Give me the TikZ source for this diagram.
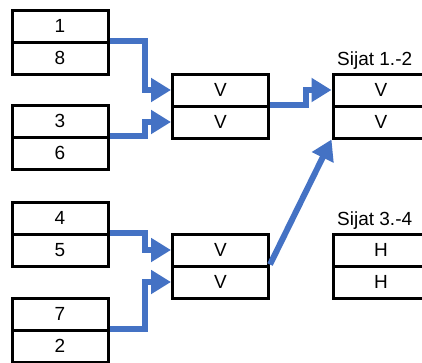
\documentclass[tikz,border=0pt]{standalone}
\usepackage{fontspec}
\setmainfont{Liberation Sans}
\usetikzlibrary{arrows.meta}
\definecolor{flowcol}{RGB}{68,114,196}
\newcommand{\cellw}{96pt}
\tikzset{
  cell/.style={draw=black, line width=3pt, minimum width=\cellw, minimum height=32pt,
    inner sep=0pt, font=\fontsize{19}{22}\selectfont},
  flow/.style={draw=flowcol, line width=6pt, -{Triangle[length=20pt,width=23pt]}},
  sija/.style={anchor=base west, inner sep=0pt, font=\fontsize{19}{22}\selectfont}
}
\begin{document}
\begin{tikzpicture}[x=1pt, y=-1pt]

        \useasboundingbox (0, 0) rectangle (422, 362);

        % lähtöparit
        \node[cell] (p1a) at (60, 26) {1};
        \node[cell] (p1b) at (60, 58) {8};
        \node[cell] (p2a) at (60, 121) {3};
        \node[cell] (p2b) at (60, 153) {6};
        \node[cell] (p3a) at (60, 218) {4};
        \node[cell] (p3b) at (60, 250) {5};
        \node[cell] (p4a) at (60, 314) {7};
        \node[cell] (p4b) at (60, 346) {2};

        % välierät
        \node[cell] (v1a) at (220.5, 90) {V};
        \node[cell] (v1b) at (220.5, 122) {V};
        \node[cell] (v2a) at (220.5, 250) {V};
        \node[cell] (v2b) at (220.5, 282) {V};

        % sijat
        \node[cell] (s1a) at (381, 90) {V};
        \node[cell] (s1b) at (381, 122) {V};
        \node[cell] (s2a) at (381, 250) {H};
        \node[cell] (s2b) at (381, 282) {H};
        \node[sija] (l12) at (337, 65) {Sijat 1.-2};
        \node[sija] (l34) at (337, 225) {Sijat 3.-4};

        % nuolet
        \draw[flow] (p1b.north east) -- ++(35, 0) |- (v1a.west);
        \draw[flow] (p2b.north east) -- ++(35, 0) |- (v1b.west);
        \draw[flow] (p3b.north east) -- ++(35, 0) |- (v2a.west);
        \draw[flow] (p4b.north east) -- ++(35, 0) |- (v2b.west);
        \draw[flow] (v1b.north east) -- ++(36, 0) |- (s1a.west);
        \draw[flow] (v2b.north east) -- (s1b.south west);

  \end{tikzpicture}
\end{document}
